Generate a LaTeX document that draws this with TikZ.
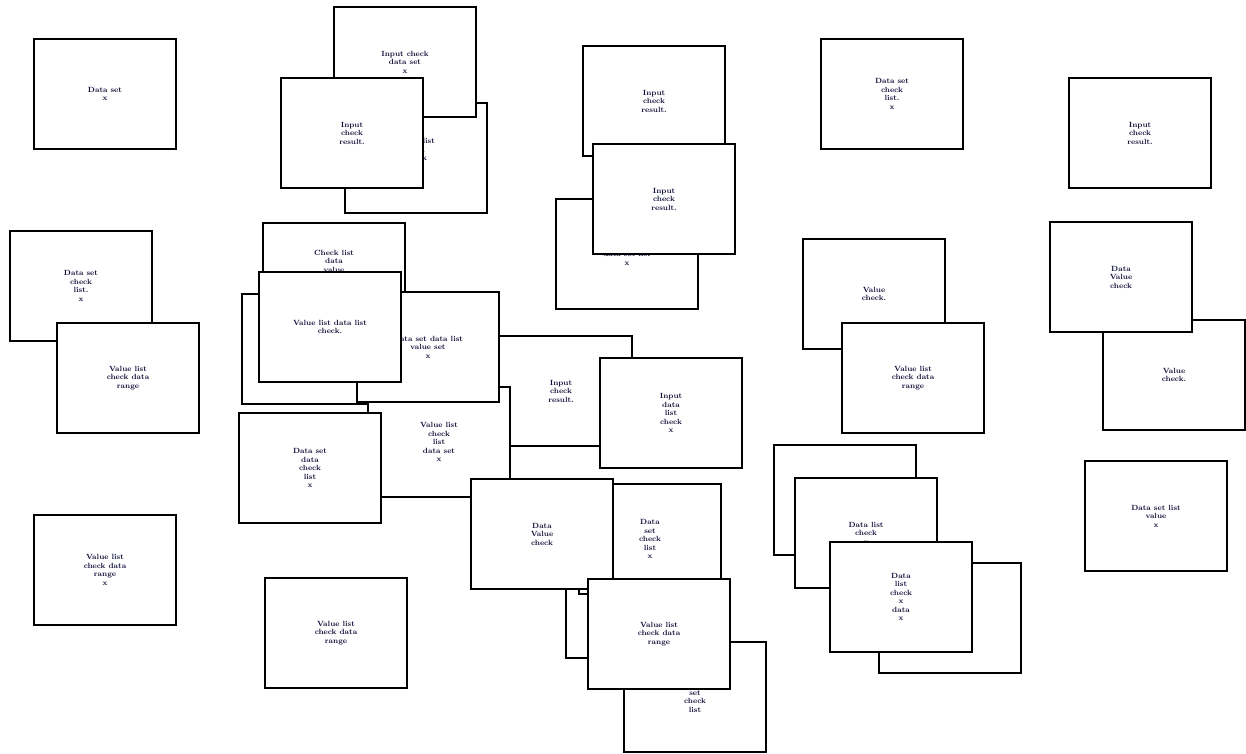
\documentclass[tikz,border=0pt]{standalone}
\definecolor{ink}{rgb}{0.05,0.05,0.22}
\tikzset{
  card/.style={draw=black, fill=white, line width=1.6pt, inner sep=0pt, outer sep=0pt,
    minimum width=142pt, minimum height=110pt, align=center, text=ink,
    font=\fontsize{7.5}{8.5}\selectfont\bfseries},
}
\begin{document}
\begin{tikzpicture}[x=1pt,y=-1pt]
\useasboundingbox (0,0) rectangle (1246,754);
% top row
\node[card] (A) at (105,94) {Data set\\x};
\node[card] (C) at (416,158) {Value list\\data\\check\\set\\x};
\node[card] (B) at (405,62) {Input check\\data set\\x};
\node[card] (D) at (352,133) {Input\\check\\result.};
\node[card] (E) at (654,101) {Input\\check\\result.};
\node[card] (F) at (627,254) {Value list\\data set list\\x};
\node[card] (G) at (664,199) {Input\\check\\result.};
\node[card] (H) at (892,94) {Data set\\check\\list.\\x};
\node[card] (I) at (1140,133) {Input\\check\\result.};
% left middle
\node[card] (J) at (81,286) {Data set\\check\\list.\\x};
\node[card] (K) at (128,378) {Value list\\check data\\range};
% central cluster
\node[card] (L) at (334,278) {Check list\\data\\value\\check\\list\\data\\x};
\node[card] (N) at (313,349) {};
\node[card] (R) at (561,391) {Input\\check\\result.};
\node[card] (P) at (439,442) {Value list\\check\\list\\data set\\x};
\node[card] (O) at (428,347) {Data set data list\\value set\\x};
\node[card] (M) at (330,327) {Value list data list\\check.};
\node[card] (Q) at (310,468) {Data set\\data\\check\\list\\x};
\node[card] (S) at (671,413) {Input\\data\\list\\check\\x};
% lower middle
\node[card] (W) at (637,603) {};
\node[card] (U) at (650,539) {Data\\set\\check\\list\\x};
\node[card] (T) at (542,534) {Data\\Value\\check};
\node[card] (X) at (695,697) {Data\\set\\check\\list};
\node[card] (V) at (659,634) {Value list\\check data\\range};
% lower right
\node[card] (Y) at (845,500) {};
\node[card] (Z) at (866,533) {Data list\\check\\x};
\node[card] (AA) at (950,618) {};
\node[card] (AB) at (901,597) {Data\\list\\check\\x\\data\\x};
\node[card] (AC) at (874,294) {Value\\check.};
\node[card] (AD) at (913,378) {Value list\\check data\\range};
\node[card] (AF) at (1174,375) {Value\\check.};
\node[card] (AE) at (1121,277) {Data\\Value\\check};
\node[card] (AG) at (1156,516) {Data set list\\value\\x};
\node[card] (AH) at (105,570) {Value list\\check data\\range\\x};
\node[card] (AI) at (336,633) {Value list\\check data\\range};
\end{tikzpicture}
\end{document}
